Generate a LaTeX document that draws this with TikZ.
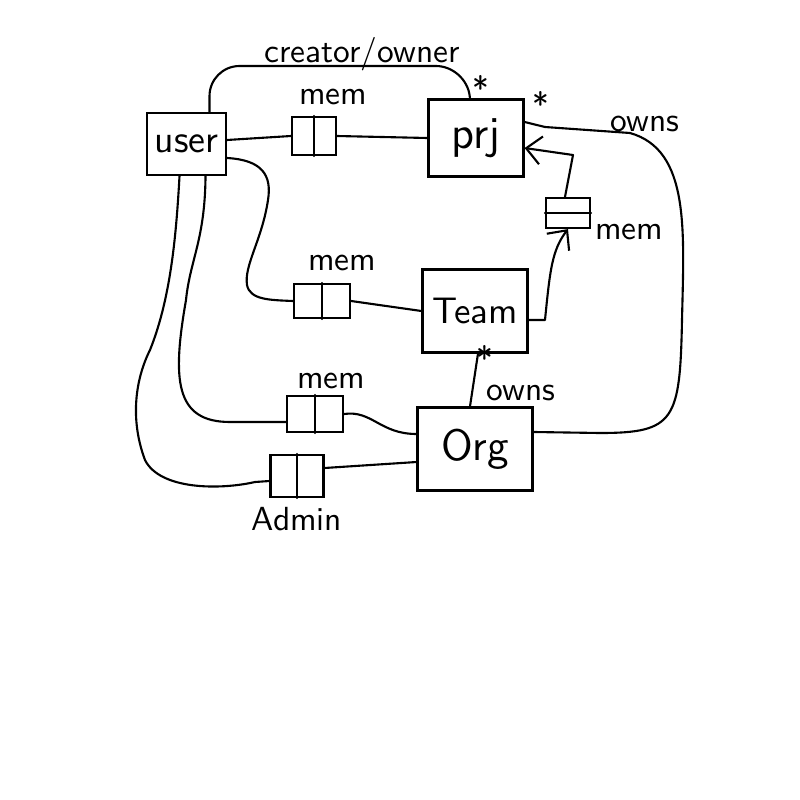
\documentclass[tikz,border=0pt]{standalone}
\usepackage{tikz}
\usetikzlibrary{arrows.meta}

\tikzset{
  entity/.style={draw=black,line width=0.6pt,inner sep=0pt,font=\sffamily\fontsize{12}{14}\selectfont},
  linkbox/.style={draw=black,line width=0.6pt,inner sep=0pt},
  tag/.style={inner sep=0pt,font=\sffamily\fontsize{9.5}{11}\selectfont},
  wire/.style={line width=0.6pt,line cap=round,line join=round},
  barb/.style={-{Straight Barb[length=1.5mm,width=2.8mm,line width=0.6pt]}}
}

\begin{document}
\begin{tikzpicture}[x=0.01cm,y=-0.01cm]
\useasboundingbox (0,0) rectangle (800,800);
\node[entity,minimum width=0.79cm,minimum height=0.62cm,font=\sffamily\fontsize{11}{13}\selectfont] (user) at (186.5,144) {user};
\node[entity,minimum width=0.95cm,minimum height=0.77cm,font=\sffamily\fontsize{13}{15}\selectfont] (prj) at (476,138) {prj};
\node[entity,minimum width=1.05cm,minimum height=0.83cm,font=\sffamily\fontsize{10.5}{13}\selectfont] (team) at (475,311) {Team};
\node[entity,minimum width=1.15cm,minimum height=0.83cm,font=\sffamily\fontsize{12.5}{15}\selectfont] (org) at (475,449) {Org};
\node[linkbox,minimum width=0.44cm,minimum height=0.38cm] (m1) at (314,136) {};
\node[linkbox,minimum width=0.56cm,minimum height=0.34cm] (m2) at (322,301) {};
\node[linkbox,minimum width=0.56cm,minimum height=0.36cm] (m3) at (315,414) {};
\node[linkbox,minimum width=0.53cm,minimum height=0.42cm] (ad) at (297,476) {};
\node[linkbox,minimum width=0.44cm,minimum height=0.30cm] (m4) at (568,213) {};
\draw[wire] (m1.north) -- (m1.south);
\draw[wire] (m2.north) -- (m2.south);
\draw[wire] (m3.north) -- (m3.south);
\draw[wire] (ad.north) -- (ad.south);
\draw[wire] (m4.west) -- (m4.east);
\node[tag] (m1lbl) at (333,97) {mem};
\node[tag] (m2lbl) at (342,263) {mem};
\node[tag] (m3lbl) at (331,381) {mem};
\node[tag] (adlbl) at (297,519) {Admin};
\node[tag] (m4lbl) at (629,232) {mem};
\node[tag] (ownlbl) at (362,54) {creator/owner};
\node[tag] (star1) at (481,88) {*};
\node[tag] (star2) at (541,104) {*};
\node[tag] (owns1) at (645,124) {owns};
\node[tag] (star3) at (485,358) {*};
\node[tag] (owns2) at (521,393) {owns};
\draw[wire,rounded corners=0.3cm] ([xshift=0.23cm]user.north) |- (466,66) -- ([xshift=-0.06cm]prj.north);
\draw[wire] ([yshift=0.04cm]user.east) -- (m1.west);
\draw[wire] (m1.east) -- (prj.west);
\draw[wire] ([yshift=-0.14cm]user.east) .. controls (262,160) and (272,175) .. (268,200) .. controls (262,240) and (244,265) .. (247,285) .. controls (250,300) and (270,300) .. (m2.west);
\draw[wire] (m2.east) -- (team.west);
\draw[wire] ([xshift=0.19cm]user.south) .. controls (205,240) and (190,260) .. (186,300) .. controls (172,380) and (175,422) .. (230,422) -- ([yshift=-0.08cm]m3.west);
\draw[wire] (m3.east) .. controls (372,410) and (380,434) .. ([yshift=0.15cm]org.west);
\draw[wire] ([xshift=-0.07cm]user.south) .. controls (176,240) and (170,300) .. (150,350) .. controls (135,380) and (130,420) .. (145,460) .. controls (160,490) and (220,490) .. (255,482) -- ([yshift=-0.05cm]ad.west);
\draw[wire] ([yshift=0.08cm]ad.east) -- ([yshift=-0.13cm]org.west);
\draw[wire,barb] ([yshift=-0.09cm]team.east) -- (545,320) .. controls (550,270) and (552,250) .. (m4.south);
\draw[wire,barb] ([xshift=-0.03cm]m4.north) -- (573,155) -- ([yshift=-0.1cm]prj.east);
\draw[wire] ([yshift=0.17cm]org.east) -- (600,433) .. controls (675,433) and (680,420) .. (682,320) .. controls (684,230) and (690,150) .. (630,133) -- (545,127) -- ([yshift=0.16cm]prj.east);
\draw[wire] ([xshift=0.03cm]team.south) -- ([xshift=-0.05cm]org.north);
\end{tikzpicture}
\end{document}
